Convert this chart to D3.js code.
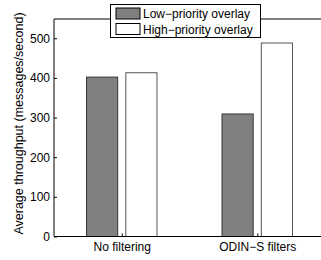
<!DOCTYPE html>
<html><head><meta charset="utf-8">
<script src="https://cdn.jsdelivr.net/npm/d3@7"></script>
<style>body{margin:0;background:#fff}svg{display:block}text{font-family:"Liberation Sans",Arial,sans-serif}</style>
</head><body><svg id="c" width="321" height="260"></svg>
<script>
const categories = ["No filtering", "ODIN\u2212S filters"];
const seriesNames = ["Low\u2212priority overlay", "High\u2212priority overlay"];
const lowValues = [402, 309];
const highValues = [413, 488];
const yTicks = [0, 100, 200, 300, 400, 500];
const yLabel = "Average throughput (messages/second)";

const svg = d3.select("#c");
const L = 54, R = 325, T = 19, B = 236.5;
const FS = 12;
const x = d3.scaleLinear().domain([0.5, 2.5]).range([L, R]);
const y = d3.scaleLinear().domain([0, 500]).range([B, B - 500 * 0.3965]);
const colors = ["#808080", "#ffffff"];
const strokes = ["#333", "#555"];
const series = [lowValues, highValues];
const bw = 0.23, offs = [-0.145, 0.145];

series.forEach((vals, s) => {
  svg.append("g").selectAll("rect").data(vals).join("rect")
    .attr("x", (d, i) => x(i + 1 + offs[s] - bw / 2))
    .attr("width", x(bw) - x(0))
    .attr("y", d => y(d))
    .attr("height", d => y(0) - y(d))
    .attr("fill", colors[s]).attr("stroke", strokes[s]).attr("stroke-width", 1);
});

// box
svg.append("line").attr("x1", L).attr("x2", R).attr("y1", T).attr("y2", T).attr("stroke", "#000");
svg.append("line").attr("x1", L).attr("x2", R).attr("y1", B).attr("y2", B).attr("stroke", "#000");
svg.append("line").attr("x1", L).attr("x2", L).attr("y1", T).attr("y2", B).attr("stroke", "#000");

// left axis (inward ticks)
const ya = svg.append("g").attr("transform", `translate(${L},0)`)
  .call(d3.axisLeft(y).tickValues(yTicks).tickSize(-3).tickPadding(4));
ya.select(".domain").remove();
ya.selectAll("text").attr("font-size", FS).attr("fill", "#000").attr("font-family", "Liberation Sans, Arial, sans-serif");
ya.selectAll("line").attr("stroke", "#000");
// right ticks
svg.append("g").selectAll("line").data(yTicks).join("line")
  .attr("x1", R).attr("x2", R - 3).attr("y1", d => y(d)).attr("y2", d => y(d)).attr("stroke", "#000");

// bottom axis
const xa = svg.append("g").attr("transform", `translate(0,${B})`)
  .call(d3.axisBottom(x).tickValues([1, 2]).tickFormat(d => categories[d - 1]).tickSize(-3).tickPadding(6));
xa.select(".domain").remove();
xa.selectAll("text").attr("font-size", FS).attr("fill", "#000").attr("font-family", "Liberation Sans, Arial, sans-serif");
xa.selectAll("line").attr("stroke", "#000");

// y label
svg.append("text").attr("transform", `translate(23,123.5) rotate(-90)`)
  .attr("text-anchor", "middle").attr("font-size", 12.5).text(yLabel);

// legend
const lg = svg.append("g");
lg.append("rect").attr("x", 110.5).attr("y", 4.5).attr("width", 150).attr("height", 33)
  .attr("fill", "#fff").attr("stroke", "#000");
seriesNames.forEach((n, i) => {
  lg.append("rect").attr("x", 116).attr("y", 8 + i * 15.5).attr("width", 24).attr("height", 11)
    .attr("fill", colors[i]).attr("stroke", "#000");
  lg.append("text").attr("x", 143).attr("y", 18 + i * 15.5).attr("font-size", FS).text(n);
});
</script></body></html>
